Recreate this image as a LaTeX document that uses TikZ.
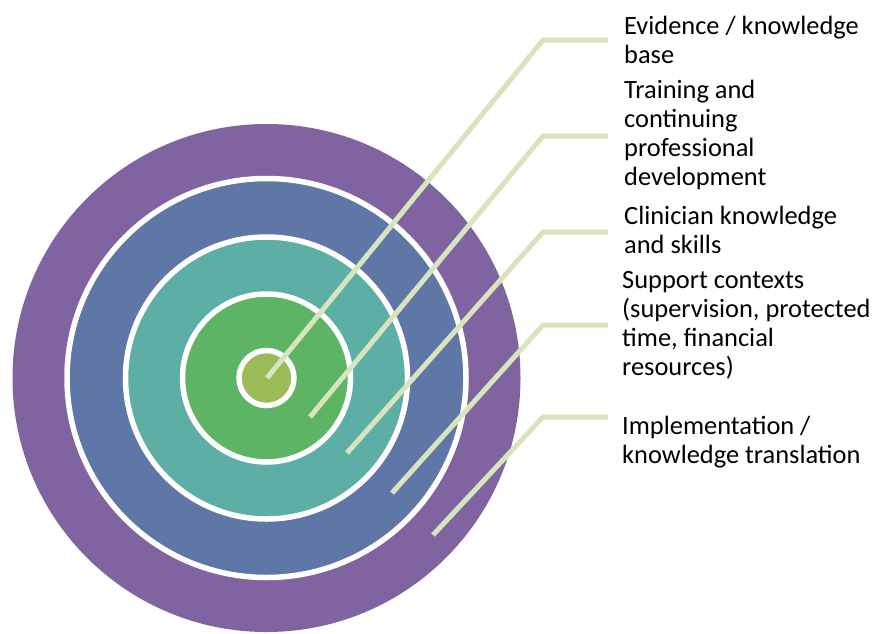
\documentclass[tikz,border=0pt]{standalone}
\usepackage{fontspec}
\setmainfont{Carlito}
\definecolor{ringpurple}{HTML}{8064A2}
\definecolor{ringblue}{HTML}{5F77A7}
\definecolor{ringteal}{HTML}{5DAFA6}
\definecolor{ringgreen}{HTML}{5CB464}
\definecolor{ringcore}{HTML}{9BBB59}
\definecolor{leader}{HTML}{D7E4BD}
\tikzset{
  ring/.style={draw=white, line width=5.5pt},
  leaderline/.style={draw=leader, line width=5pt, line join=miter, line cap=butt},
  label/.style={anchor=base west, align=left, inner sep=0pt, text=black,
    font=\fontsize{26.4pt}{28.7pt}\selectfont}
}
\begin{document}
\begin{tikzpicture}[x=1pt,y=-1pt]
\useasboundingbox (0,0) rectangle (877,633);
\coordinate (c) at (266.5,378);
\fill[ringpurple] (c) circle (254);
\path[ring, fill=ringblue] (c) circle (199.5);
\path[ring, fill=ringteal] (c) circle (141);
\path[ring, fill=ringgreen] (c) circle (84);
\path[ring, fill=ringcore] (c) circle (27.5);

\coordinate (e1) at (267,378);   \coordinate (k1) at (543,40);  \coordinate (h1) at (608,40);
\coordinate (e2) at (310,417);   \coordinate (k2) at (543,136); \coordinate (h2) at (608,136);
\coordinate (e3) at (347,453);   \coordinate (k3) at (543,232); \coordinate (h3) at (608,232);
\coordinate (e4) at (392,493);   \coordinate (k4) at (543,325); \coordinate (h4) at (608,325);
\coordinate (e5) at (433,535);   \coordinate (k5) at (543,417); \coordinate (h5) at (608,417);
\foreach \i in {1,...,5} {\draw[leaderline] (e\i) -- (k\i) -- (h\i);}

% anchors at the baseline of the last line of each block
\node[label] (t1) at (624,63) {Evidence / knowledge\\base};
\node[label] (t2) at (624,185) {Training and\\continuing\\professional\\development};
\node[label] (t3) at (624,253) {Clinician knowledge\\and skills};
\node[label] (t4) at (622,375) {Support contexts\\(supervision, protected\\time, financial\\resources)};
\node[label] (t5) at (622,463) {Implementation /\\knowledge translation};
\end{tikzpicture}
\end{document}
